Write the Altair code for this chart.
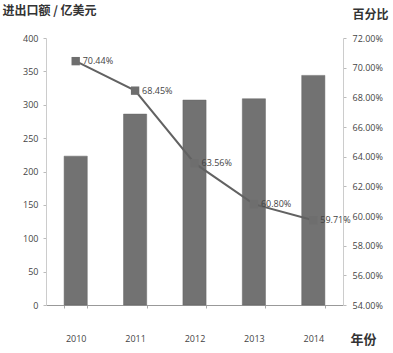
import altair as alt
import pandas as pd

years = ["2010", "2011", "2012", "2013", "2014"]
trade = [223, 286, 307, 309, 344]
share = [70.44, 68.45, 63.56, 60.80, 59.71]
share_labels = ["70.44%", "68.45%", "63.56%", "60.80%", "59.71%"]

df = pd.DataFrame({"year": years, "trade": trade, "share": share, "label": share_labels})

LAB_FONT = "Open Sans"
CJK = "Noto Sans CJK SC"
TXT = "#444444"

x = alt.X(
    "year:N",
    scale=alt.Scale(paddingInner=0.61, paddingOuter=0.305),
    axis=alt.Axis(
        title="年份", titleFont=CJK, titleFontSize=13, titleFontWeight="bold", titleColor="#333333",
        titleAngle=0, titleAlign="left", titleBaseline="middle", titleX=304, titleY=34,
        labelAngle=0, labelFont=LAB_FONT, labelFontSize=9, labelColor=TXT, labelPadding=26,
        domainColor="#999999", tickColor="#aaaaaa", tickSize=3, tickBand="extent",
    ),
)

bars = alt.Chart(df).mark_bar(color="#727272", stroke="#666666", strokeWidth=0.5).encode(
    x=x,
    y=alt.Y(
        "trade:Q",
        scale=alt.Scale(domain=[0, 400], nice=False),
        axis=alt.Axis(
            values=list(range(0, 401, 50)),
            title="进出口额 / 亿美元", titleFont=CJK, titleFontSize=12, titleFontWeight="bold",
            titleColor="#333333", titleAngle=0, titleAlign="left", titleBaseline="middle",
            titleX=-44, titleY=-28,
            labelFont=LAB_FONT, labelFontSize=9, labelColor=TXT, labelPadding=5,
            domainColor="#cccccc", tickColor="#bbbbbb", tickSize=3, grid=False,
        ),
    ),
)

yr = alt.Y(
    "share:Q",
    scale=alt.Scale(domain=[54, 72], nice=False, zero=False),
    axis=alt.Axis(
        orient="right", values=list(range(54, 73, 2)),
        labelExpr="format(datum.value, '.2f') + '%'",
        title="百分比", titleFont=CJK, titleFontSize=12, titleFontWeight="bold",
        titleColor="#333333", titleAngle=0, titleAlign="left", titleBaseline="middle",
        titleX=9, titleY=-24,
        labelFont=LAB_FONT, labelFontSize=9, labelColor=TXT, labelPadding=6,
        domainColor="#cccccc", tickColor="#bbbbbb", tickSize=3, grid=False,
    ),
)

line = alt.Chart(df).mark_line(color="#626262", strokeWidth=2).encode(x=x, y=yr)
pts = alt.Chart(df).mark_point(shape="square", filled=True, size=70, color="#6e6e6e", opacity=1).encode(
    x=x, y=yr
)
txt = alt.Chart(df).mark_text(align="left", baseline="middle", dx=7, font=LAB_FONT, fontSize=9, color=TXT).encode(
    x=x, y=yr, text="label:N"
)

right = alt.layer(line, pts, txt)

chart = (
    alt.layer(bars, right)
    .resolve_scale(y="independent")
    .properties(
        width=297, height=267,
        autosize=alt.AutoSizeParams(type="none"),
        padding={"left": 46, "top": 38, "right": 50, "bottom": 48},
        background="white",
    )
    .configure_view(stroke=None)
)

chart.save("out.html", embed_options={"renderer": "svg", "actions": False})
